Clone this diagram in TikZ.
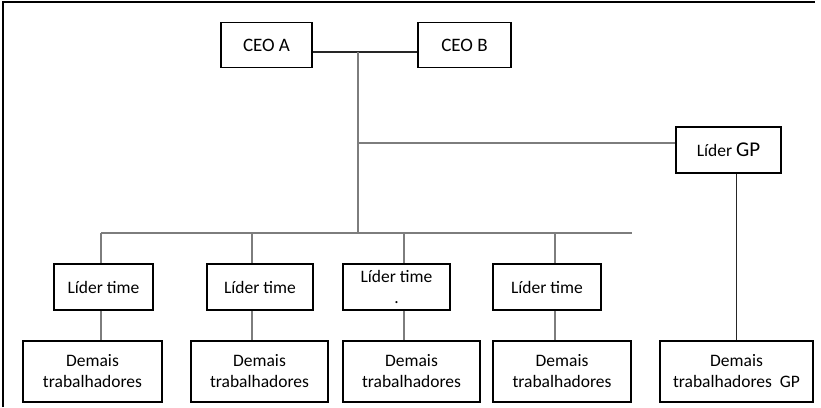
\documentclass[tikz,border=0pt]{standalone}
\usepackage{fontspec}
\setmainfont{Carlito}
\usetikzlibrary{positioning}
\definecolor{linegray}{RGB}{125,125,125}
\tikzset{
	orgbox/.style={draw=black, line width=1.5pt, align=center, inner sep=0pt, font=\fontsize{17.5}{21}\selectfont},
	leadbox/.style={orgbox, minimum height=46pt},
	staffbox/.style={orgbox, minimum height=61pt},
	grayline/.style={draw=linegray, line width=1.1pt},
	darkline/.style={draw=black!85, line width=1.1pt}
}

\begin{document}
\begin{tikzpicture}[x=1pt,y=-1pt]
	\useasboundingbox (0,0) rectangle (821,407);
	\draw[line width=2.5pt] (3,407) -- (3,2) -- (815,2);
	% top of the chart
	\node[orgbox, minimum width=91pt, minimum height=45pt, font=\fontsize{19}{21}\selectfont] (ceoA) at (266.5,45) {CEO A};
	\node[orgbox, minimum width=93pt, minimum height=45pt, font=\fontsize{19}{21}\selectfont] (ceoB) at (464.5,45) {CEO B};
	\node[leadbox, minimum width=105pt] (gpl) at (728.5,150) {Líder {\fontsize{21}{21}\selectfont GP}};
	% team leaders
	\node[leadbox, minimum width=99pt] (lt1) at (103.5,287) {Líder time};
	\node[leadbox, minimum width=106pt] (lt2) at (260,287) {Líder time};
	\node[leadbox, minimum width=107pt] (lt3) at (396.5,287) {Líder time\\.};
	\node[leadbox, minimum width=108pt] (lt4) at (547,287) {Líder time};
	% workers
	\node[staffbox, minimum width=139pt] (dt1) at (92.5,371.5) {Demais\\trabalhadores};
	\node[staffbox, minimum width=137pt] (dt2) at (259.5,371.5) {Demais\\trabalhadores};
	\node[staffbox, minimum width=137pt] (dt3) at (411.5,371.5) {Demais\\trabalhadores};
	\node[staffbox, minimum width=138pt] (dt4) at (562,371.5) {Demais\\trabalhadores};
	\node[staffbox, minimum width=153pt] (dgp) at (736.5,371.5) {Demais\\trabalhadores\ \ GP};
	% joints
	\coordinate (ceojoin) at (358,52);
	\coordinate (gpjoin) at (358,143);
	\coordinate (busjoin) at (358,233);
	\coordinate (busend) at (632,233);
	\coordinate (tap1) at (101,233);
	\coordinate (tap2) at (252,233);
	\coordinate (tap3) at (404,233);
	\coordinate (tap4) at (555,233);
	% lines
	\draw[darkline] (ceoA.east |- ceojoin) -- (ceoB.west |- ceojoin);
	\draw[grayline] (ceojoin) -- (busjoin);
	\draw[grayline] (gpjoin) -- (gpl.west |- gpjoin);
	\draw[darkline] (dgp.north |- gpl.south) -- (dgp.north);
	\draw[grayline] (tap1) -- (busend);
	\foreach \i in {1,...,4} {
		\draw[grayline] (tap\i) -- (tap\i |- lt\i.north);
		\draw[grayline] (tap\i |- lt\i.south) -- (tap\i |- dt\i.north);
	}
\end{tikzpicture}
\end{document}
